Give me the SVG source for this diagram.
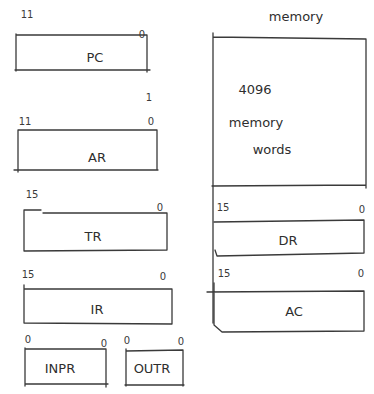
<svg xmlns="http://www.w3.org/2000/svg" width="374" height="394" viewBox="0 0 374 394">
<style>
.b{fill:none;stroke:#3a3a3a;stroke-width:1.3;stroke-linecap:round;stroke-linejoin:round}
.t{font-family:"DejaVu Sans",sans-serif;font-size:13px;fill:#2e2e2e;text-anchor:middle}
.s{font-family:"DejaVu Sans",sans-serif;font-size:10px;fill:#3a3a3a;text-anchor:middle}
</style>
<rect width="374" height="394" fill="#ffffff"/>
<g id="PC">
<path class="b" d="M16 34 L16 71 M16 35 L147 35 L147 72 M15 70 L150 70"/>
<text class="s" x="27" y="18">11</text>
<text class="s" x="142" y="38">0</text>
<text class="t" x="95" y="62">PC</text>
</g>
<text class="s" x="149" y="101">1</text>
<g id="AR">
<path class="b" d="M18 130 L18 172 M18 130 L157 130 L157 169 M14 170 L158 170"/>
<text class="s" x="25" y="125">11</text>
<text class="s" x="151" y="125">0</text>
<text class="t" x="97" y="162">AR</text>
</g>
<g id="TR">
<path class="b" d="M24 210 L24 251 L167 250 L167 213 L43 213 M24 210 L41 210"/>
<text class="s" x="32" y="198">15</text>
<text class="s" x="160" y="211">0</text>
<text class="t" x="93" y="241">TR</text>
</g>
<g id="IR">
<path class="b" d="M24 285 L24 323 L172 324 L172 289 L24 289"/>
<text class="s" x="28" y="278">15</text>
<text class="s" x="163" y="280">0</text>
<text class="t" x="97" y="314">IR</text>
</g>
<g id="INPR">
<path class="b" d="M25 348 L25 386 M25 349 L106 349 L106 387 M25 384 L108 384"/>
<text class="s" x="28" y="343">0</text>
<text class="s" x="104" y="347">0</text>
<text class="t" x="60" y="373">INPR</text>
</g>
<g id="OUTR">
<path class="b" d="M126 349 L126 386 M126 351 L183 350 L183 386 M125 385 L184 385"/>
<text class="s" x="127" y="344">0</text>
<text class="s" x="181" y="345">0</text>
<text class="t" x="152" y="373">OUTR</text>
</g>
<g id="memory">
<path class="b" d="M213 33 L213 323 M213 37 L366 39 L366 188 M212 186 L366 185"/>
<text class="t" x="296" y="21">memory</text>
<text class="t" x="255" y="94">4096</text>
<text class="t" x="256" y="127">memory</text>
<text class="t" x="272" y="154">words</text>
</g>
<g id="DR">
<path class="b" d="M214 222 L364 220 L364 253 L217 256 L215 250"/>
<text class="s" x="223" y="211">15</text>
<text class="s" x="362" y="213">0</text>
<text class="t" x="288" y="245">DR</text>
</g>
<g id="AC">
<path class="b" d="M207 292 L364 291 L364 331 L222 332 L214 325 L214 283"/>
<text class="s" x="224" y="277">15</text>
<text class="s" x="361" y="277">0</text>
<text class="t" x="294" y="316">AC</text>
</g>
</svg>
